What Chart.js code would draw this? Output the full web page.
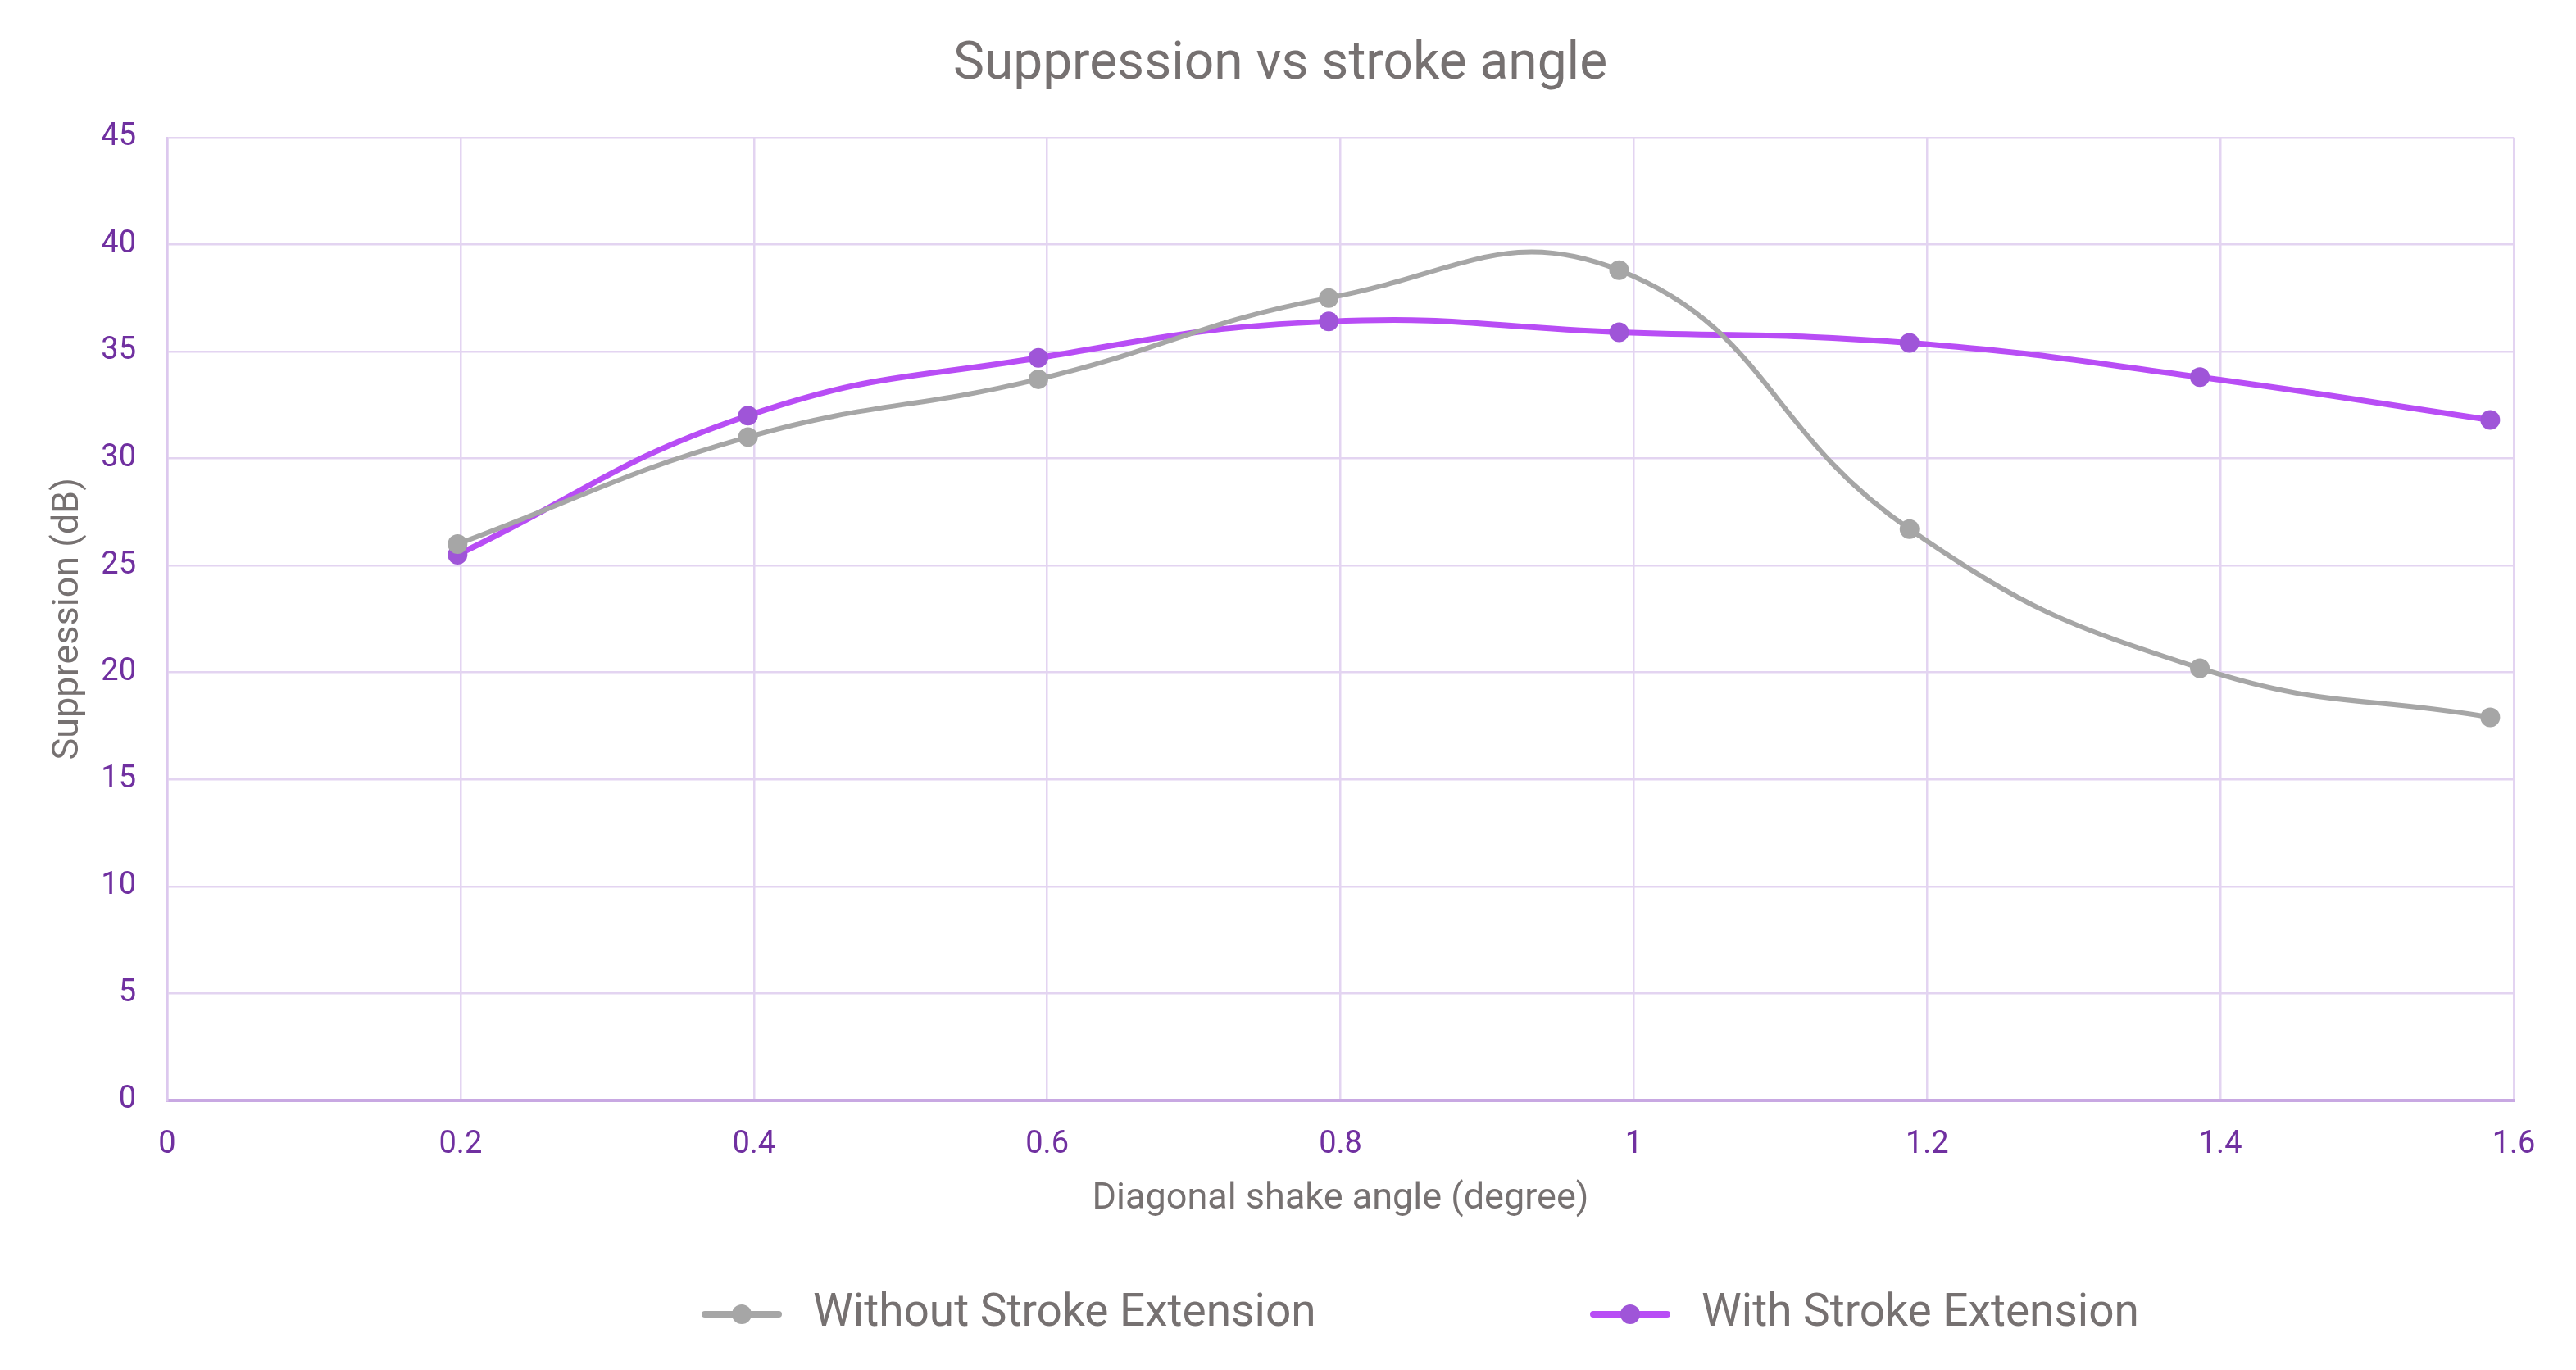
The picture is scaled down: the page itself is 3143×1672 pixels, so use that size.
<!DOCTYPE html>
<html>
<head>
<meta charset="utf-8">
<script src="https://cdn.jsdelivr.net/npm/chart.js@4/dist/chart.umd.min.js"></script>
<style>
  html, body { margin: 0; padding: 0; background: #fff; }
  #wrap { width: 3143px; height: 1672px; }
</style>
</head>
<body>
<div id="wrap"><canvas id="chart"></canvas></div>
<script>
// ---- data ----
const angles = [0.198, 0.396, 0.594, 0.792, 0.99, 1.188, 1.386, 1.584];
const withoutExt = [26.0, 31.0, 33.7, 37.5, 38.8, 26.7, 20.2, 17.9];
const withExt = [25.5, 32.0, 34.7, 36.4, 35.9, 35.4, 33.8, 31.8];
const seriesNames = ["Without Stroke Extension", "With Stroke Extension"];

const FONT = "Roboto, 'Liberation Sans', sans-serif";
const textGray = "#767171";
const tickPurple = "#7030A0";
const gridColor = "#E3D4F1";

const toPoints = (ys) => angles.map((x, i) => ({ x: x, y: ys[i] }));

// legend drawn as line + dot, spaced like the original
const legendPlugin = {
  id: "lineLegend",
  afterDraw(chart) {
    const ctx = chart.ctx;
    const y = 1604;
    const items = [
      { ds: chart.data.datasets[0], x0: 860 },
      { ds: chart.data.datasets[1], x0: 1944 }
    ];
    ctx.save();
    items.forEach(it => {
      ctx.strokeStyle = it.ds.borderColor;
      ctx.lineWidth = 8;
      ctx.lineCap = "round";
      ctx.beginPath();
      ctx.moveTo(it.x0, y);
      ctx.lineTo(it.x0 + 90, y);
      ctx.stroke();
      ctx.fillStyle = it.ds.pointBackgroundColor;
      ctx.beginPath();
      ctx.arc(it.x0 + 45, y, 12, 0, Math.PI * 2);
      ctx.fill();
      ctx.fillStyle = textGray;
      ctx.font = "55px " + FONT;
      ctx.textBaseline = "middle";
      ctx.textAlign = "left";
      ctx.fillText(it.ds.label, it.x0 + 132, y);
    });
    ctx.restore();
  }
};

new Chart(document.getElementById("chart"), {
  type: "scatter",
  data: {
    datasets: [
      {
        label: seriesNames[0],
        data: toPoints(withoutExt),
        showLine: true,
        tension: 0.45,
        borderColor: "#A6A6A6",
        borderWidth: 6,
        pointBackgroundColor: "#A6A6A6",
        pointBorderWidth: 0,
        pointRadius: 12
      },
      {
        label: seriesNames[1],
        data: toPoints(withExt),
        showLine: true,
        tension: 0.45,
        borderColor: "#B84DF5",
        borderWidth: 7,
        pointBackgroundColor: "#9F55D8",
        pointBorderWidth: 0,
        pointRadius: 12
      }
    ]
  },
  options: {
    responsive: true,
    maintainAspectRatio: false,
    animation: false,
    layout: { padding: { left: 57, right: 76, top: 0, bottom: 197 } },
    plugins: {
      legend: { display: false },
      tooltip: { enabled: false },
      title: {
        display: true,
        text: "Suppression vs stroke angle",
        color: textGray,
        font: { family: FONT, size: 64, weight: "normal" },
        padding: { top: 42, bottom: 49 }
      }
    },
    scales: {
      x: {
        type: "linear",
        min: 0,
        max: 1.6,
        ticks: {
          stepSize: 0.2,
          color: tickPurple,
          padding: 32,
          font: { family: FONT, size: 38 },
          callback: (v) => String(+v.toFixed(1))
        },
        grid: { color: gridColor, lineWidth: 2.5, drawTicks: false },
        border: { color: "#C8A8E2", width: 4 },
        title: {
          display: true,
          text: "Diagonal shake angle (degree)",
          color: textGray,
          font: { family: FONT, size: 45, lineHeight: 0.5 },
          padding: { top: 0, bottom: 0 }
        }
      },
      y: {
        min: 0,
        max: 45,
        ticks: {
          stepSize: 5,
          color: tickPurple,
          padding: 38,
          font: { family: FONT, size: 38 }
        },
        grid: { color: gridColor, lineWidth: 2.5, drawTicks: false },
        border: { color: "#DCC8EE", width: 2.5 },
        title: {
          display: true,
          text: "Suppression (dB)",
          color: textGray,
          font: { family: FONT, size: 45 },
          padding: 0
        },
        afterFit: (scale) => { scale.width = 147; }
      }
    }
  },
  plugins: [legendPlugin]
});
</script>
</body>
</html>
